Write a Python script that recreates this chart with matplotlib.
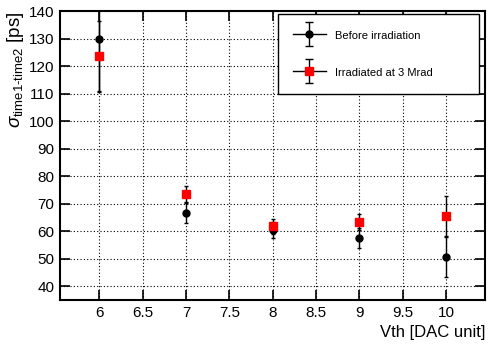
import matplotlib
matplotlib.use("Agg")
import matplotlib.pyplot as plt
from matplotlib.lines import Line2D
from matplotlib.legend_handler import HandlerTuple, HandlerErrorbar
from matplotlib.container import ErrorbarContainer

plt.rcParams['font.family'] = ['Liberation Sans', 'DejaVu Sans']
plt.rcParams['mathtext.fontset'] = 'custom'
plt.rcParams['mathtext.rm'] = 'Liberation Sans'
plt.rcParams['mathtext.it'] = 'Liberation Sans:italic'

vth = [6, 7, 8, 9, 10]
before = [130.0, 66.6, 60.5, 57.6, 50.8]
before_err = [19.0, 3.6, 3.0, 3.5, 7.3]
irrad = [123.5, 73.6, 61.8, 63.4, 65.5]
irrad_err = [13.0, 3.0, 2.8, 3.0, 7.3]

xticks = [6, 6.5, 7, 7.5, 8, 8.5, 9, 9.5, 10]
yticks = [40, 50, 60, 70, 80, 90, 100, 110, 120, 130, 140]

fig = plt.figure(figsize=(4.88, 3.45), dpi=100)
ax = fig.add_axes([0.123, 0.130, 0.871, 0.838])

eb1 = ax.errorbar(vth, before, yerr=before_err, fmt='o', color='black', ms=5,
                  ecolor='black', elinewidth=1.0, capsize=1.5, capthick=1.0, zorder=3)
eb2 = ax.errorbar(vth, irrad, yerr=irrad_err, fmt='s', color='black', mfc='red', mec='red',
                  ms=6, ecolor='black', elinewidth=1.0, capsize=1.5, capthick=1.0, zorder=4)

# proxy artists for the legend (placed outside the visible range)
eb1_leg = ax.errorbar([-100], [0], yerr=[1], fmt='o', color='black', ms=5, ecolor='black',
                      elinewidth=1.0, capsize=3, capthick=1.0)
eb2_leg = ax.errorbar([-100], [0], yerr=[1], fmt='s', color='black', mfc='red', mec='red',
                      ms=6, ecolor='black', elinewidth=1.0, capsize=3, capthick=1.0)
hline = Line2D([], [], color='black', lw=1.0)

ax.set_xlim(5.547, 10.45)
ax.set_ylim(35, 140)
ax.set_xticks(xticks)
ax.set_xticklabels([('%g' % v) for v in xticks])
ax.set_yticks(yticks)
ax.tick_params(direction='in', top=True, right=True, length=7, width=1.2,
               labelsize=11, pad=4)
ax.grid(True, color='black', linestyle=(0, (1, 2)), linewidth=0.8)
for s in ax.spines.values():
    s.set_linewidth(1.5)

ax.set_xlabel('Vth [DAC unit]', fontsize=12, loc='right')
ax.set_ylabel(r'$\sigma_{\mathrm{time1\text{-}time2}}$ [ps]', fontsize=13.5, loc='top',
              labelpad=2)

leg = ax.legend([(hline, eb1_leg), (hline, eb2_leg)],
                ['Before irradiation', 'Irradiated at 3 Mrad'],
                handler_map={tuple: HandlerTuple(ndivide=1),
                             ErrorbarContainer: HandlerErrorbar(yerr_size=1.1)},
                loc='upper left', bbox_to_anchor=(0.512, 0.727, 0.474, 0.263),
                mode='expand', fontsize=8, frameon=True, fancybox=False,
                edgecolor='black', framealpha=1, borderpad=1.35, labelspacing=2.1,
                handlelength=3.0, handleheight=1.5, handletextpad=0.8,
                borderaxespad=0.0)
leg.get_frame().set_linewidth(1.0)

fig.savefig('out.png', dpi=100)
